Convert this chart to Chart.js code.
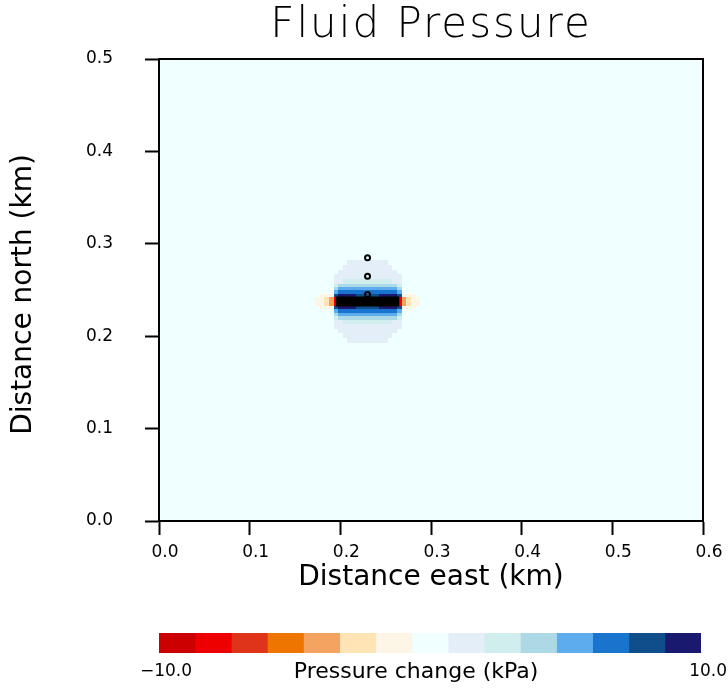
<!DOCTYPE html>
<html>
<head>
<meta charset="utf-8">
<title>Fluid Pressure</title>
<script src="https://cdn.jsdelivr.net/npm/chart.js@4.4.1/dist/chart.umd.min.js"></script>
<style>
  html, body { margin: 0; padding: 0; background: #ffffff; }
  #wrap { position: relative; width: 728px; height: 689px; }
  #fieldBox { position: absolute; left: 0; top: 0; }
  #barBox { position: absolute; left: 0; top: 600px; }
</style>
</head>
<body>
<div id="wrap">
  <div id="fieldBox"><canvas id="field" width="728" height="600"></canvas></div>
  <div id="barBox"><canvas id="scale" width="728" height="89"></canvas></div>
</div>
<script>
// Grid cell edges (km) of the block around the well
const eastEdges = [0.1725, 0.1775, 0.1825, 0.1875, 0.1925, 0.1975, 0.2025, 0.2075,
                   0.2125, 0.2175, 0.2225, 0.2275, 0.2325, 0.2375, 0.2425, 0.2475,
                   0.2525, 0.2575, 0.2625, 0.2675, 0.2725, 0.2775, 0.2825, 0.2875];
const northEdges = [0.282, 0.277, 0.272, 0.267, 0.262, 0.257, 0.253, 0.2495, 0.246, 0.2425,
                    0.2325, 0.229, 0.2255, 0.222, 0.218, 0.213, 0.208, 0.203, 0.198, 0.193];

// Pressure change (kPa), one row per north band (top to bottom), one column per east cell
const fluidPressure = [
  [0,0,0,0,0,0,0, 0.8,0.9,0.9,1.0,1.0,1.0,0.9,0.9,0.8, 0,0,0,0,0,0,0],
  [0,0,0,0,0,0, 0.8,0.9,1.0,1.1,1.2,1.2,1.2,1.1,1.0,0.9,0.8, 0,0,0,0,0,0],
  [0,0,0,0,0, 0.8,0.9,1.1,1.2,1.3,1.3,1.3,1.3,1.3,1.2,1.1,0.9,0.8, 0,0,0,0,0],
  [0,0,0,0, 0.8,1.0,1.2,1.4,1.6,1.7,1.8,1.8,1.8,1.7,1.6,1.4,1.2,1.0,0.8, 0,0,0,0],
  [0,0,0,0, 1.1,1.6,2.1,2.3,2.5,2.6,2.6,2.6,2.6,2.6,2.5,2.3,2.1,1.6,1.1, 0,0,0,0],
  [0,0,0,0, 2.4,3.4,3.6,3.8,3.9,4.0,4.0,4.0,4.0,4.0,3.9,3.8,3.6,3.4,2.4, 0,0,0,0],
  [0,0,0,0, 3.8,4.8,5.0,5.2,5.3,5.3,5.3,5.2,5.3,5.3,5.3,5.2,5.0,4.8,3.8, 0,0,0,0],
  [0,0,0,0, 5.1,6.3,6.5,6.6,6.6,6.5,6.4,6.3,6.4,6.5,6.6,6.6,6.5,6.3,5.1, 0,0,0,0],
  [0,-1.0,-1.2,-1.3, 7.9,8.9,9.2,9.1,8.8,8.4,8.1,7.9,8.1,8.4,8.8,9.1,9.2,8.9,7.9, -1.3,-1.2,-1.0,0],
  [-0.9,-1.4,-2.6,-4.3,-7.8, 9.5,9.6,9.6,9.6,9.5,9.5,9.4,9.5,9.5,9.6,9.6,9.6,9.5, -7.8,-4.3,-2.6,-1.4,-0.9],
  [0,-1.0,-1.2,-1.3, 7.9,8.9,9.2,9.1,8.8,8.4,8.1,7.9,8.1,8.4,8.8,9.1,9.2,8.9,7.9, -1.3,-1.2,-1.0,0],
  [0,0,0,0, 5.1,6.3,6.5,6.6,6.6,6.5,6.4,6.3,6.4,6.5,6.6,6.6,6.5,6.3,5.1, 0,0,0,0],
  [0,0,0,0, 3.8,4.8,5.0,5.2,5.3,5.3,5.3,5.2,5.3,5.3,5.3,5.2,5.0,4.8,3.8, 0,0,0,0],
  [0,0,0,0, 2.4,3.4,3.6,3.8,3.9,4.0,4.0,4.0,4.0,4.0,3.9,3.8,3.6,3.4,2.4, 0,0,0,0],
  [0,0,0,0, 1.1,1.6,2.1,2.3,2.5,2.6,2.6,2.6,2.6,2.6,2.5,2.3,2.1,1.6,1.1, 0,0,0,0],
  [0,0,0,0, 0.8,1.0,1.2,1.4,1.6,1.7,1.8,1.8,1.8,1.7,1.6,1.4,1.2,1.0,0.8, 0,0,0,0],
  [0,0,0,0,0, 0.8,0.9,1.1,1.2,1.3,1.3,1.3,1.3,1.3,1.2,1.1,0.9,0.8, 0,0,0,0,0],
  [0,0,0,0,0,0, 0.8,0.9,1.0,1.1,1.2,1.2,1.2,1.1,1.0,0.9,0.8, 0,0,0,0,0,0],
  [0,0,0,0,0,0,0, 0.8,0.9,0.9,1.0,1.0,1.0,0.9,0.9,0.8, 0,0,0,0,0,0,0]
];

// Colour levels of the pressure scale
const levelEdges = [-10, -8.667, -7.333, -6, -4.667, -3.333, -2, -0.667,
                    0.667, 2, 3.333, 4.667, 6, 7.333, 8.667, 10];
const levelColors = ['#CD0000', '#EE0000', '#E0341A', '#EE7600', '#F4A460',
                     '#FFE4B5', '#FDF5E6', '#F0FFFF', '#E3EEF8', '#D1EEEE',
                     '#ADD8E6', '#5CACEE', '#1874CD', '#104E8B', '#191970'];

// Horizontal well trace and monitoring points (km)
const wellEast = [0.195, 0.265];
const wellNorth = [0.2375, 0.2375];
const monitorEast = [0.23, 0.23, 0.23];
const monitorNorth = [0.285, 0.265, 0.245];

const FONT = "'DejaVu Sans', 'Liberation Sans', sans-serif";
Chart.defaults.font.family = FONT;
Chart.defaults.color = '#000000';

function colorFor(v) {
  for (let k = 0; k < levelColors.length; k++) {
    if (v < levelEdges[k + 1]) return levelColors[k];
  }
  return levelColors[levelColors.length - 1];
}

// Paints the pressure cells underneath the datasets
const pressureCells = {
  id: 'pressureCells',
  beforeDatasetsDraw(chart) {
    const { ctx, chartArea: a, scales: { x, y } } = chart;
    ctx.save();
    ctx.beginPath();
    ctx.rect(a.left, a.top, a.right - a.left, a.bottom - a.top);
    ctx.clip();
    const bx0 = x.getPixelForValue(x.min), bx1 = x.getPixelForValue(x.max);
    const by0 = y.getPixelForValue(y.max), by1 = y.getPixelForValue(y.min);
    ctx.fillStyle = colorFor(0);
    ctx.fillRect(bx0, by0, bx1 - bx0, by1 - by0);
    for (let r = 0; r < fluidPressure.length; r++) {
      const yt = Math.round(y.getPixelForValue(northEdges[r]));
      const yb = Math.round(y.getPixelForValue(northEdges[r + 1]));
      for (let c = 0; c < fluidPressure[r].length; c++) {
        const xl = Math.round(x.getPixelForValue(eastEdges[c]));
        const xr = Math.round(x.getPixelForValue(eastEdges[c + 1]));
        ctx.fillStyle = colorFor(fluidPressure[r][c]);
        ctx.fillRect(xl, yt, xr - xl, yb - yt);
      }
    }
    ctx.restore();
  }
};

// Closed frame round the plot and the heading above it
const frameAndHeading = {
  id: 'frameAndHeading',
  afterDraw(chart) {
    const { ctx, chartArea: a } = chart;
    ctx.save();
    ctx.strokeStyle = '#000000';
    ctx.lineWidth = 2;
    ctx.strokeRect(a.left, a.top, a.right - a.left, a.bottom - a.top);
    ctx.fillStyle = '#000000';
    ctx.font = "200 42px " + FONT;
    ctx.letterSpacing = '2px';
    ctx.textAlign = 'center';
    ctx.textBaseline = 'alphabetic';
    ctx.fillText('Fluid Pressure', (a.left + a.right) / 2, 37);
    ctx.restore();
  }
};

new Chart(document.getElementById('field'), {
  type: 'scatter',
  data: {
    datasets: [
      {
        type: 'line',
        label: 'Well',
        data: wellEast.map((e, k) => ({ x: e, y: wellNorth[k] })),
        borderColor: '#000000',
        borderWidth: 10,
        borderCapStyle: 'butt',
        pointRadius: 0,
        fill: false
      },
      {
        label: 'Monitoring points',
        data: monitorEast.map((e, k) => ({ x: e, y: monitorNorth[k] })),
        pointStyle: 'circle',
        pointRadius: 2.5,
        borderWidth: 2,
        borderColor: '#000000',
        backgroundColor: 'rgba(0,0,0,0)'
      }
    ]
  },
  options: {
    responsive: false,
    animation: false,
    layout: { padding: { left: 0, right: 25, top: 59, bottom: 0 } },
    plugins: { legend: { display: false }, tooltip: { enabled: false } },
    scales: {
      x: {
        type: 'linear', min: 0, max: 0.6,
        ticks: { stepSize: 0.1, callback: v => v.toFixed(1), font: { size: 17 },
                 color: '#000000', padding: 7, labelOffset: 6, maxRotation: 0 },
        grid: { drawOnChartArea: false, drawTicks: true, tickLength: 14, tickWidth: 2, tickColor: '#000000' },
        border: { display: true, color: '#000000', width: 2 },
        title: { display: true, text: 'Distance east (km)', font: { size: 28 }, color: '#000000',
                 padding: { top: 0, bottom: 5 } },
        afterFit: s => { s.height = 79; }
      },
      y: {
        type: 'linear', min: 0, max: 0.5,
        ticks: { stepSize: 0.1, callback: v => v.toFixed(1), font: { size: 17 },
                 color: '#000000', padding: 32 },
        grid: { drawOnChartArea: false, drawTicks: true, tickLength: 14, tickWidth: 2, tickColor: '#000000' },
        border: { display: true, color: '#000000', width: 2 },
        title: { display: true, text: 'Distance north (km) ', font: { size: 28 }, color: '#000000',
                 padding: { top: 7, bottom: 0 } },
        afterFit: s => { s.width = 159; }
      }
    }
  },
  plugins: [pressureCells, frameAndHeading]
});

// Colour scale bar below the plot
new Chart(document.getElementById('scale'), {
  type: 'bar',
  data: {
    labels: ['Pressure change'],
    datasets: levelColors.map((c, k) => ({
      label: String(k),
      data: [[levelEdges[k], levelEdges[k + 1]]],
      backgroundColor: c,
      borderWidth: 0,
      grouped: false,
      categoryPercentage: 1,
      barPercentage: 1
    }))
  },
  options: {
    indexAxis: 'y',
    responsive: false,
    animation: false,
    layout: { padding: { left: 159, right: 25, top: 33, bottom: 0 } },
    plugins: { legend: { display: false }, tooltip: { enabled: false } },
    scales: {
      x: {
        type: 'linear', min: -10, max: 10,
        afterBuildTicks: s => { s.ticks = [{ value: -10 }, { value: 10 }]; },
        ticks: { callback: v => (v < 0 ? '\u2212' : '') + Math.abs(v).toFixed(1),
                 font: { size: 17 }, color: '#000000', padding: 8, labelOffset: 7,
                 maxRotation: 0, autoSkip: false },
        grid: { display: false, drawTicks: false },
        border: { display: false },
        title: { display: true, text: 'Pressure change (kPa)\u00A0\u00A0\u00A0\u00A0', font: { size: 22 }, color: '#000000',
                 padding: { top: 0, bottom: 4 } },
        afterFit: s => { s.height = 36; }
      },
      y: { display: false }
    }
  }
});
</script>
</body>
</html>
